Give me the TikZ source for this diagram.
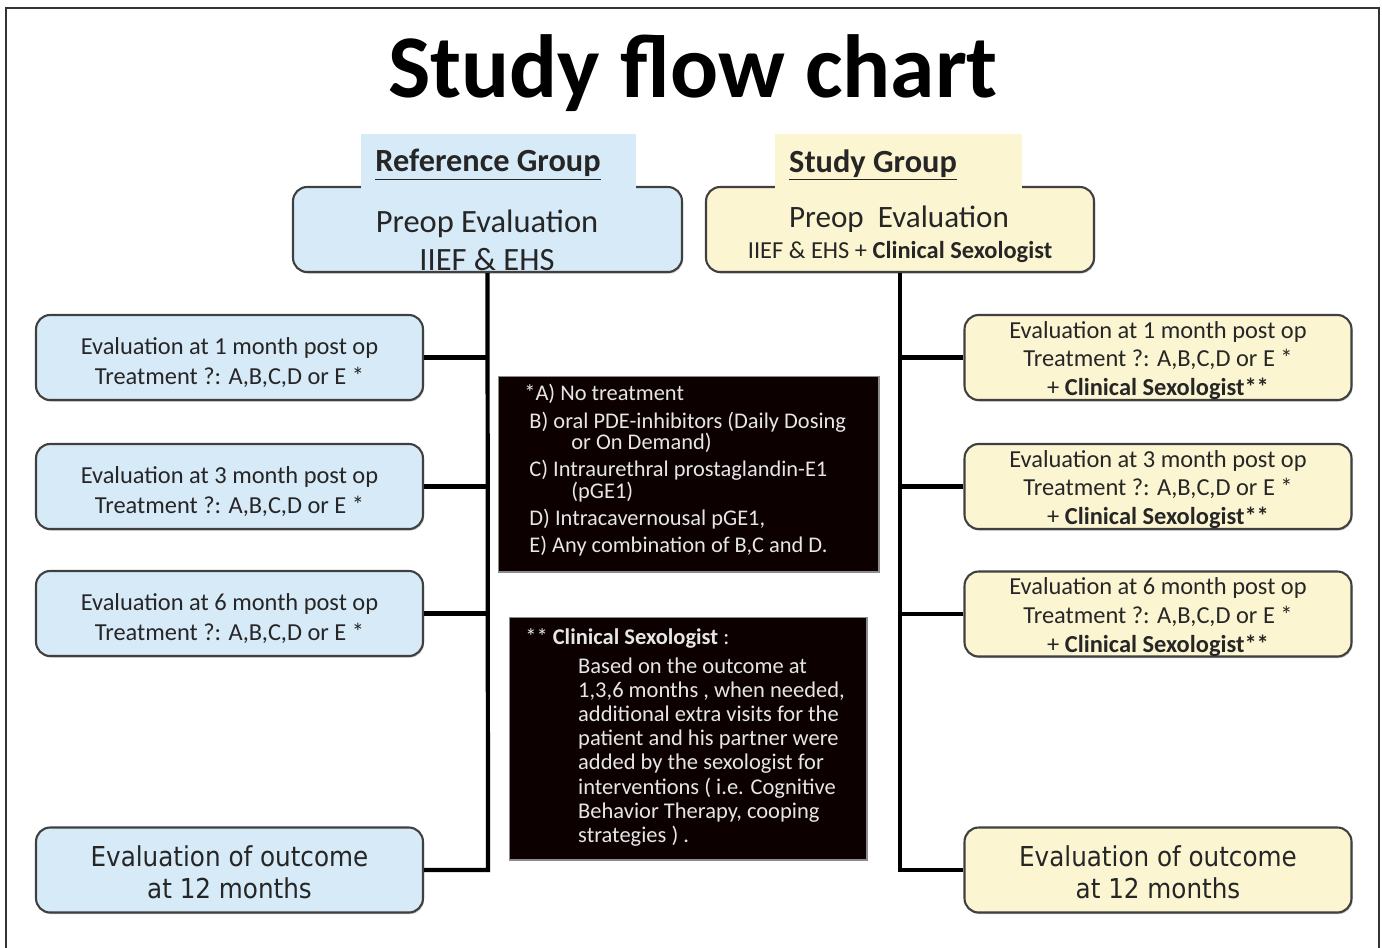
\documentclass[tikz,border=0pt]{standalone}
\usepackage{fontspec}
\setmainfont{Carlito}
\newfontfamily\tah{DejaVu Sans Condensed}
\usetikzlibrary{shadows}
\definecolor{lblue}{HTML}{D7EAF8}
\definecolor{lyel}{HTML}{FCF5D2}
\definecolor{txt}{HTML}{262626}
\definecolor{btxt}{HTML}{E6E6E6}
\tikzset{
  rbox/.style={draw=black!75, line width=1.2pt, rounded corners=8pt,
    drop shadow={shadow xshift=0.6pt, shadow yshift=-0.9pt, opacity=0.45},
    inner sep=0pt},
  bluebox/.style={rbox, fill=lblue},
  yelbox/.style={rbox, fill=lyel},
  evalbox/.style={minimum width=7.74cm, minimum height=1.7cm},
  tabbox/.style={inner sep=0pt, text=txt},
  boxtxt/.style={inner sep=0pt, text=txt, align=center},
  blackbox/.style={fill=black!95!red, draw=black!45, line width=0.6pt, inner sep=0pt},
  btext/.style={text=btxt, align=left, inner sep=0pt, anchor=north west},
  conn/.style={line width=2.4pt, black},
  evtext/.style={boxtxt, font=\fontsize{13.9}{17}\selectfont},
  outtext/.style={boxtxt, font=\tah\fontsize{15.6}{18.6}\selectfont},
}
\begin{document}
\begin{tikzpicture}[x=0.02cm,y=-0.02cm]
\useasboundingbox (0,0) rectangle (1382,947);
\fill[white] (0,0) rectangle (1382,947);
% frame
\draw[line width=0.8pt, black!80] (6,952) -- (6,8) -- (1379,8) -- (1379,952);
% title
\node[tabbox, font=\bfseries\fontsize{51}{53}\selectfont, text=black] (title) at (693,73) {Study flow chart};

% preop boxes
\node[bluebox, minimum width=7.78cm, minimum height=1.7cm] (pl) at (487.5,229.5) {};
\node[yelbox, minimum width=7.76cm, minimum height=1.7cm] (pr) at (900,229.5) {};
% tabs
\node[fill=lblue, minimum width=5.5cm, minimum height=1.18cm, inner sep=0pt] (tl) at (498.5,163) {};
\node[fill=lyel, minimum width=4.94cm, minimum height=1.18cm, inner sep=0pt] (tr) at (898.5,163) {};
\node[tabbox, font=\bfseries\fontsize{18.4}{20}\selectfont] (tlt) at (488,165) {\underline{Reference Group}};
\node[tabbox, font=\bfseries\fontsize{18.4}{20}\selectfont] (trt) at (873,165) {\underline{Study Group}};
\node[tabbox, font=\fontsize{18.5}{20}\selectfont] (plt1) at (487,224) {Preop Evaluation};
\node[tabbox, font=\fontsize{18.5}{20}\selectfont] (plt2) at (487,260) {IIEF \& EHS};
\node[tabbox, font=\fontsize{17.7}{20}\selectfont] (prt1) at (899,219) {Preop\ \ Evaluation};
\node[tabbox, font=\fontsize{13.9}{15}\selectfont] (prt2) at (900,252) {IIEF \& EHS + \textbf{Clinical Sexologist}};

% left evaluation boxes
\node[bluebox, evalbox] (l1) at (229.5,357.5) {};
\node[bluebox, evalbox] (l2) at (229.5,486.5) {};
\node[bluebox, evalbox] (l3) at (229.5,613.5) {};
\node[bluebox, evalbox] (l4) at (229.5,870) {};
\node[evtext] (l1t) at ([yshift=-2.8pt]l1.center) {Evaluation at 1 month post op\\Treatment ?: A,B,C,D or E *};
\node[evtext] (l2t) at ([yshift=-2.8pt]l2.center) {Evaluation at 3 month post op\\Treatment ?: A,B,C,D or E *};
\node[evtext] (l3t) at ([yshift=-2.8pt]l3.center) {Evaluation at 6 month post op\\Treatment ?: A,B,C,D or E *};
\node[outtext] (l4t) at ([yshift=-1.2pt]l4.center) {Evaluation of outcome\\at 12 months};

% right evaluation boxes
\node[yelbox, evalbox] (r1) at (1158,357.5) {};
\node[yelbox, evalbox] (r2) at (1158,486.5) {};
\node[yelbox, evalbox] (r3) at (1158,614) {};
\node[yelbox, evalbox] (r4) at (1158,870) {};
\node[evtext, font=\fontsize{13.9}{16.4}\selectfont] (r1t) at ([yshift=-1.7pt]r1.center) {Evaluation at 1 month post op\\Treatment ?: A,B,C,D or E *\\+ \textbf{Clinical Sexologist**}};
\node[evtext, font=\fontsize{13.9}{16.4}\selectfont] (r2t) at ([yshift=-1.7pt]r2.center) {Evaluation at 3 month post op\\Treatment ?: A,B,C,D or E *\\+ \textbf{Clinical Sexologist**}};
\node[evtext, font=\fontsize{13.9}{16.4}\selectfont] (r3t) at ([yshift=-1.7pt]r3.center) {Evaluation at 6 month post op\\Treatment ?: A,B,C,D or E *\\+ \textbf{Clinical Sexologist**}};
\node[outtext] (r4t) at ([yshift=-1.2pt]r4.center) {Evaluation of outcome\\at 12 months};

% connectors
\coordinate (lb) at (488,870);
\coordinate (rb) at (900,870);
\draw[conn] (pl.south) -- (lb) -- (l4.east);
\draw[conn] (l1.east) -- (l1.east -| lb);
\draw[conn] (l2.east) -- (l2.east -| lb);
\draw[conn] (l3.east) -- (l3.east -| lb);
\draw[conn] (pr.south) -- (rb) -- (r4.west);
\draw[conn] (r1.west) -- (r1.west -| rb);
\draw[conn] (r2.west) -- (r2.west -| rb);
\draw[conn] (r3.west) -- (r3.west -| rb);

% black legend boxes
\node[blackbox, minimum width=7.62cm, minimum height=3.92cm] (k1) at (688.5,474) {};
\node[btext, font=\fontsize{12.75}{12.4}\selectfont] (k1t) at (524,384) {%
*A) No treatment\\[3.2pt]
\ B) oral PDE-inhibitors (Daily Dosing\\
\hspace*{2.1em}or On Demand)\\[3pt]
\ C) Intraurethral prostaglandin-E1\\
\hspace*{2.1em}(pGE1)\\[3pt]
\ D) Intracavernousal pGE1,\\[3pt]
\ E) Any combination of B,C and D.};
\node[blackbox, minimum width=7.16cm, minimum height=4.86cm] (k2) at (688,738.5) {};
\node[btext, font=\fontsize{12.8}{13.7}\selectfont] (k2t) at (525,628) {%
** \textbf{Clinical Sexologist} :\\[3pt]
\hspace*{2.35em}Based on the outcome at\\
\hspace*{2.35em}1,3,6 months , when needed,\\
\hspace*{2.35em}additional extra visits for the\\
\hspace*{2.35em}patient and his partner were\\
\hspace*{2.35em}added by the sexologist for\\
\hspace*{2.35em}interventions ( i.e. Cognitive\\
\hspace*{2.35em}Behavior Therapy, cooping\\
\hspace*{2.35em}strategies ) .};
\end{tikzpicture}
\end{document}
